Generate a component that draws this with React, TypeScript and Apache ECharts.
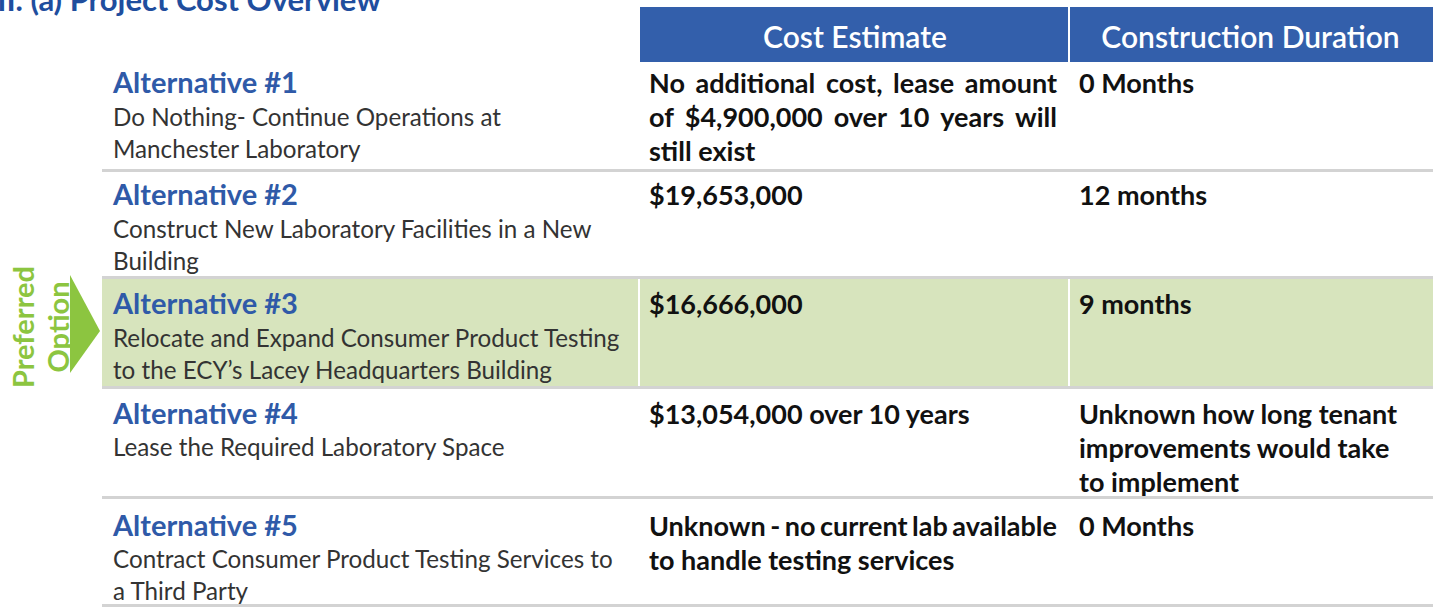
import React, { useEffect, useRef } from "react";
import * as echarts from "echarts";

const pageTitle = "III. (a) Project Cost Overview";
const headers = ["Cost Estimate", "Construction Duration"];
const altTitles = ["Alternative #1", "Alternative #2", "Alternative #3", "Alternative #4", "Alternative #5"];
const altDescriptions = [
  ["Do Nothing- Continue Operations at", "Manchester Laboratory"],
  ["Construct New Laboratory Facilities in a New", "Building"],
  ["Relocate and Expand Consumer Product Testing", "to the ECY\u2019s Lacey Headquarters Building"],
  ["Lease the Required Laboratory Space"],
  ["Contract Consumer Product Testing Services to", "a Third Party"],
];
const costEstimates = [
  ["No additional cost, lease amount", "of $4,900,000 over 10 years will", "still exist"],
  ["$19,653,000"],
  ["$16,666,000"],
  ["$13,054,000 over 10 years"],
  ["Unknown - no current lab available", "to handle testing services"],
];
const durations = [
  ["0 Months"],
  ["12 months"],
  ["9 months"],
  ["Unknown how long tenant", "improvements would take", "to implement"],
  ["0 Months"],
];
const preferredIndex = 2;
const preferredLabel = ["Preferred", "Option"];

export default function App() {
  const ref = useRef<HTMLDivElement>(null);
  useEffect(() => {
    const chart = echarts.init(ref.current!, null, { renderer: "svg" });
    const BLUE = "#2f5aa8";
    const HEADER = "#335fab";
    const GREEN = "#d7e4bd";
    const ARROW = "#8cc540";
    const SEP = "#d3d3d3";
    const FAMILY = "Lato, 'Open Sans', sans-serif";
    const left = 102;
    const right = 1433;
    const col1 = 638;
    const col2 = 1068;
    const rowTops = [62, 171, 278, 388, 498];
    const rowBottom = 606;
    const titleY = [81, 193, 302, 412, 524];
    const descGap = [35, 35, 35, 34, 34];
    const descLH = 32;
    const costLH = 34;
    const costX = 649;
    const costWidth = 408;
    const durX = 1079;
    const cellFont = `bold 27px ${FAMILY}`;

    const ctx = document.createElement("canvas").getContext("2d")!;
    const measure = (t: string, font: string) => {
      ctx.font = font;
      return ctx.measureText(t).width;
    };

    const g: any[] = [];
    // title
    g.push({
      type: "text", x: -12, y: -1,
      style: { text: pageTitle, fill: "#1f4e9e", font: `bold 31px ${FAMILY}`, textVerticalAlign: "middle" },
    });
    // header
    g.push({ type: "rect", shape: { x: col1 + 2, y: 7, width: right - col1 - 2, height: 55 }, style: { fill: HEADER } });
    g.push({ type: "rect", shape: { x: col2, y: 7, width: 2, height: 55 }, style: { fill: "#ffffff" } });
    g.push({
      type: "text", x: (col1 + col2) / 2 + 2, y: 36,
      style: { text: headers[0], fill: "#ffffff", font: `600 30px ${FAMILY}`, textAlign: "center", textVerticalAlign: "middle" },
    });
    g.push({
      type: "text", x: (col2 + right) / 2, y: 36,
      style: { text: headers[1], fill: "#ffffff", font: `600 30px ${FAMILY}`, textAlign: "center", textVerticalAlign: "middle" },
    });
    // preferred band
    const pTop = rowTops[preferredIndex];
    const pBot = rowTops[preferredIndex + 1];
    g.push({ type: "rect", shape: { x: left, y: pTop + 1, width: right - left, height: pBot - pTop - 2 }, style: { fill: GREEN } });
    g.push({ type: "rect", shape: { x: col1, y: pTop + 1, width: 2, height: pBot - pTop - 2 }, style: { fill: "#ffffff" } });
    g.push({ type: "rect", shape: { x: col2, y: pTop + 1, width: 2, height: pBot - pTop - 2 }, style: { fill: "#ffffff" } });
    // separators
    [...rowTops.slice(1), rowBottom].forEach((y) => {
      g.push({ type: "rect", shape: { x: left, y: y - 2, width: right - left, height: 3 }, style: { fill: SEP } });
    });
    // arrow + label
    g.push({ type: "polygon", shape: { points: [[70, 275], [100, 331], [70, 373]] }, style: { fill: ARROW } });
    preferredLabel.forEach((t, i) => {
      g.push({
        type: "text", x: 22 + i * 35, y: 327, rotation: Math.PI / 2,
        style: { text: t, fill: ARROW, font: `bold 29px ${FAMILY}`, textAlign: "center", textVerticalAlign: "middle" },
      });
    });

    const pushJustified = (line: string, x: number, y: number, width: number) => {
      const words = line.split(" ");
      const total = words.reduce((s, w) => s + measure(w, cellFont), 0);
      const gap = words.length > 1 ? (width - total) / (words.length - 1) : 0;
      let cx = x;
      words.forEach((w) => {
        g.push({
          type: "text", x: cx, y,
          style: { text: w, fill: "#111111", font: cellFont, textVerticalAlign: "middle" },
        });
        cx += measure(w, cellFont) + gap;
      });
    };

    // rows
    altTitles.forEach((t, i) => {
      const ty = titleY[i];
      g.push({
        type: "text", x: 113, y: ty,
        style: { text: t, fill: BLUE, font: `bold 29px ${FAMILY}`, textVerticalAlign: "middle" },
      });
      altDescriptions[i].forEach((line, j) => {
        g.push({
          type: "text", x: 113, y: ty + descGap[i] + j * descLH,
          style: { text: line, fill: "#333333", font: `24.2px ${FAMILY}`, textVerticalAlign: "middle" },
        });
      });
      const cost = costEstimates[i];
      cost.forEach((line, j) => {
        const y = ty + 1 + j * costLH;
        if (j < cost.length - 1) {
          pushJustified(line, costX, y, costWidth);
        } else {
          g.push({
            type: "text", x: costX, y,
            style: { text: line, fill: "#111111", font: cellFont, textVerticalAlign: "middle" },
          });
        }
      });
      durations[i].forEach((line, j) => {
        g.push({
          type: "text", x: durX, y: ty + 1 + j * costLH,
          style: { text: line, fill: "#111111", font: cellFont, textVerticalAlign: "middle" },
        });
      });
    });

    chart.setOption({ animation: false, graphic: { elements: g } });
    return () => chart.dispose();
  }, []);
  return <div ref={ref} style={{ position: "fixed", left: 0, top: 0, width: 1438, height: 608, background: "#ffffff" }} />;
}
